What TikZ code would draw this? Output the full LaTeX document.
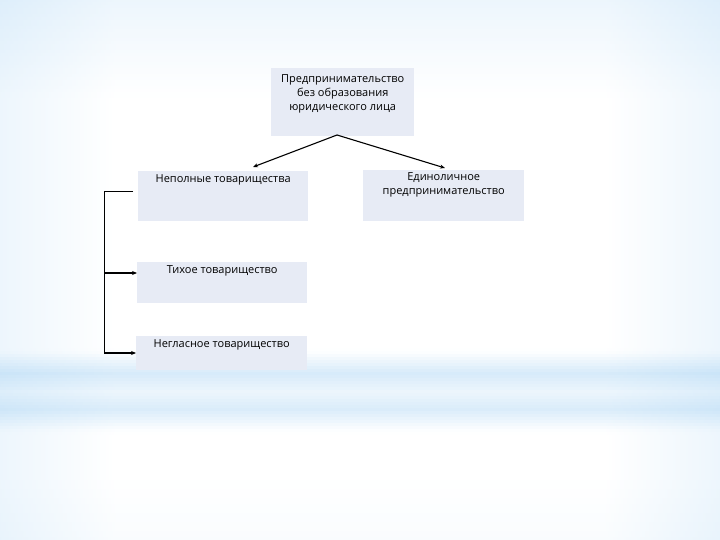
\documentclass[tikz,border=0pt]{standalone}
\usepackage{fontspec}
\setmainfont{Open Sans}
\usetikzlibrary{arrows.meta}
\definecolor{bgblue}{HTML}{B6DAF5}
\definecolor{bgdeep}{HTML}{A8D2F3}
\definecolor{boxfill}{HTML}{E7EBF5}
\colorlet{edgec}{bgblue}
\colorlet{sidec}{bgblue!45!white}
\colorlet{midc}{white}
\pgfdeclarehorizontalshading[edgec,sidec,midc]{bgh}{100bp}{color(0bp)=(edgec); color(15bp)=(sidec); color(33bp)=(midc); color(67bp)=(midc); color(85bp)=(sidec); color(100bp)=(edgec)}
\begin{document}
\begin{tikzpicture}[x=1pt,y=-1pt,
  box/.style={draw=none,fill=boxfill,inner sep=0pt,anchor=north west},
  lbl/.style={anchor=north,align=center,font=\fontsize{11}{14}\selectfont,inner sep=0pt},
  conn/.style={draw=black,line width=1.1pt,-{Stealth[length=5pt,width=4pt]}},
  plain/.style={draw=black,line width=0.8pt}]
\useasboundingbox (0,0) rectangle (720,540);
% background
\foreach \yy in {0,3,...,540}{
  \pgfmathsetmacro{\ptop}{max(0,25-0.25*\yy)}
  \pgfmathsetmacro{\pba}{max(0,45*(1-abs(\yy-372)/22))}
  \pgfmathsetmacro{\pbb}{max(0,40*(1-abs(\yy-408)/22))}
  \pgfmathsetmacro{\pbc}{max(0,18*(1-abs(\yy-390)/45))}
  \pgfmathsetmacro{\pbot}{max(0,0.12*(\yy-470))}
  \pgfmathtruncatemacro{\pp}{min(65,max(\ptop,\pba+\pbc,\pbb+\pbc,\pbot))}
  \pgfmathtruncatemacro{\qq}{min(100,55+0.7*\pp)}
  \pgfmathtruncatemacro{\ee}{min(100,2.2*\pp)}
  \colorlet{midc}{bgblue!\pp!white}
  \colorlet{sidec}{bgblue!\qq!white}
  \colorlet{edgec}{bgdeep!\ee!bgblue}
  \shade[shading=bgh] (0,\yy) rectangle (720,\yy+3.8);
}
% boxes
\node[box,minimum width=143,minimum height=68] (top) at (271,68) {};
\node[box,minimum width=170,minimum height=50] (nep) at (138,171) {};
\node[box,minimum width=161,minimum height=51] (edi) at (363,170) {};
\node[box,minimum width=170,minimum height=41] (tih) at (137,262) {};
\node[box,minimum width=171,minimum height=34] (neg) at (136,336) {};
% labels
\node[lbl] (topt) at ([yshift=-6]top.north) {Предпринимательство\\без образования\\юридического лица};
\node[lbl] (nept) at ([yshift=-3]nep.north) {Неполные товарищества};
\node[lbl] (edit) at ([yshift=-2]edi.north) {Единоличное\\предпринимательство};
\node[lbl] (tiht) at ([yshift=-3]tih.north) {Тихое товарищество};
\node[lbl] (negt) at ([yshift=-3]neg.north) {Негласное товарищество};
% connectors
\coordinate (src) at (337,135);
\coordinate (e1) at (253,167);
\coordinate (e2) at (445,168);
\draw[conn] (src) -- (e1);
\draw[conn] (src) -- (e2);
\coordinate (b0) at (133,191);
\coordinate (b1) at (104,191);
\coordinate (b2) at (104,353);
\coordinate (b3) at (104,273);
\draw[plain] (b0) -- (b1) -- (b2);
\draw[conn] (b3) -- (tih.west |- b3);
\draw[conn] (b2) -- (neg.west |- b2);
\end{tikzpicture}
\end{document}
